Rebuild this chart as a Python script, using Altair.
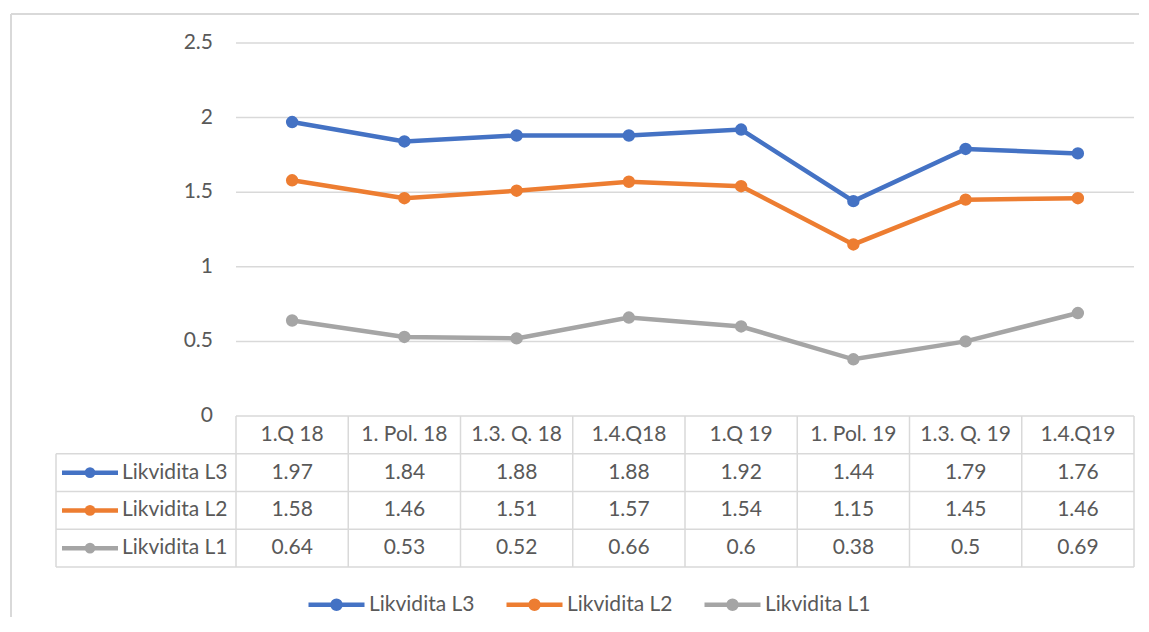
import altair as alt
import pandas as pd

# ---------------- data ----------------
categories = ["1.Q 18", "1. Pol. 18", "1.3. Q. 18", "1.4.Q18",
              "1.Q 19", "1. Pol. 19", "1.3. Q. 19", "1.4.Q19"]
series_names = ["Likvidita L3", "Likvidita L2", "Likvidita L1"]
l3 = [1.97, 1.84, 1.88, 1.88, 1.92, 1.44, 1.79, 1.76]
l2 = [1.58, 1.46, 1.51, 1.57, 1.54, 1.15, 1.45, 1.46]
l1 = [0.64, 0.53, 0.52, 0.66, 0.60, 0.38, 0.50, 0.69]
y_ticks = [0, 0.5, 1, 1.5, 2, 2.5]
y_tick_labels = ["0", "0.5", "1", "1.5", "2", "2.5"]
colors = ["#4472C4", "#ED7D31", "#A5A5A5"]

# ---------------- layout ----------------
W, H = 1078, 524
COL = W / 9.6036            # px per table column
X_MIN = -180 / COL          # left legend column of the table
NCOL = len(categories)
PX_PER_UNIT = 373 / 2.5
Y_MAX = 2.5
Y_MIN = Y_MAX - H / PX_PER_UNIT
ROW_H = 37.75 / PX_PER_UNIT
FONT = "Lato"
FS = 21
TXT = "#595959"
GRID = "#d9d9d9"
LW = 4.5


def px2x(px):
    return X_MIN + px / COL


# long table
rows = []
for s_i, (name, vals) in enumerate(zip(series_names, [l3, l2, l1])):
    for c_i, (cat, v) in enumerate(zip(categories, vals)):
        rows.append({"series": name, "cat": cat, "x": c_i + 0.5, "value": v,
                     "label": f"{v:g}", "ytab": -(s_i + 1.5) * ROW_H})
df = pd.DataFrame(rows)

hdr = pd.DataFrame({"cat": categories,
                    "x": [i + 0.5 for i in range(NCOL)],
                    "ytab": [-0.5 * ROW_H] * NCOL})

grid = pd.DataFrame({"y": y_ticks, "label": y_tick_labels,
                     "x0": [0] * len(y_ticks), "x1": [NCOL] * len(y_ticks),
                     "lx": [px2x(157)] * len(y_ticks)})

hl = pd.DataFrame({"y": [-r * ROW_H for r in range(1, 5)],
                   "x0": [X_MIN] * 4, "x1": [NCOL] * 4})
vl = pd.DataFrame({"x": [X_MIN] + list(range(NCOL + 1)),
                   "y0": [-ROW_H] + [0] * (NCOL + 1),
                   "y1": [-4 * ROW_H] * (NCOL + 2)})

rowhdr = pd.DataFrame({"series": series_names,
                       "xa": [px2x(6)] * 3, "xb": [px2x(62)] * 3,
                       "xc": [px2x(34)] * 3, "xt": [px2x(66)] * 3,
                       "ytab": [-(i + 1.5) * ROW_H for i in range(3)]})

sx = alt.Scale(domain=[X_MIN, NCOL], nice=False, zero=False)
sy = alt.Scale(domain=[Y_MIN, Y_MAX], nice=False, zero=False)
cscale = alt.Scale(domain=series_names, range=colors)


def ring(r):
    return f"M{-r},0A{r},{r},0,1,1,{r},0A{r},{r},0,1,1,{-r},0Z"


# line through a solid dot, drawn with strokes only (concentric rings)
SYM = "M-1,0L1,0" + ring(0.143) + ring(0.072) + ring(0.02)
leg = alt.Legend(
    title=None, orient="none", direction="horizontal",
    legendX=250, legendY=531,
    symbolType=SYM, symbolSize=3136, symbolStrokeWidth=LW, symbolOpacity=1,
    labelFont=FONT, labelFontSize=FS, labelColor=TXT, labelOffset=2,
    columnPadding=22, padding=0,
)

X = lambda f: alt.X(f, type="quantitative", scale=sx, axis=None)
Y = lambda f: alt.Y(f, type="quantitative", scale=sy, axis=None)

g_rules = alt.Chart(grid).mark_rule(color=GRID, strokeWidth=1.5).encode(
    x=X("x0"), x2="x1", y=Y("y"))
g_text = alt.Chart(grid).mark_text(align="right", baseline="middle", font=FONT,
                                   fontSize=FS, color=TXT).encode(
    x=X("lx"), y=Y("y"), text="label:N")
h_rules = alt.Chart(hl).mark_rule(color=GRID, strokeWidth=1.5).encode(
    x=X("x0"), x2="x1", y=Y("y"))
v_rules = alt.Chart(vl).mark_rule(color=GRID, strokeWidth=1.5).encode(
    x=X("x"), y=Y("y0"), y2="y1")

lines = alt.Chart(df).mark_line(strokeWidth=LW).encode(
    x=X("x"), y=Y("value"),
    color=alt.Color("series:N", scale=cscale, legend=leg))
pts = alt.Chart(df).mark_circle(size=154, opacity=1).encode(
    x=X("x"), y=Y("value"),
    color=alt.Color("series:N", scale=cscale, legend=None))

hdr_text = alt.Chart(hdr).mark_text(baseline="middle", font=FONT, fontSize=FS,
                                    color=TXT).encode(
    x=X("x"), y=Y("ytab"), text="cat:N")
val_text = alt.Chart(df).mark_text(baseline="middle", font=FONT, fontSize=FS,
                                   color=TXT).encode(
    x=X("x"), y=Y("ytab"), text="label:N")

rh_line = alt.Chart(rowhdr).mark_rule(strokeWidth=LW).encode(
    x=X("xa"), x2="xb", y=Y("ytab"),
    color=alt.Color("series:N", scale=cscale, legend=None))
rh_dot = alt.Chart(rowhdr).mark_circle(size=113, opacity=1).encode(
    x=X("xc"), y=Y("ytab"),
    color=alt.Color("series:N", scale=cscale, legend=None))
rh_text = alt.Chart(rowhdr).mark_text(align="left", baseline="middle", font=FONT,
                                      fontSize=FS, color=TXT).encode(
    x=X("xt"), y=Y("ytab"), text="series:N")

frame_top = alt.Chart(grid).mark_rule(color=GRID, strokeWidth=1.5).encode(
    x=alt.value(-45), x2=alt.value(1083), y=alt.value(-29))
frame_left = alt.Chart(grid).mark_rule(color=GRID, strokeWidth=1.5).encode(
    x=alt.value(-45), y=alt.value(-29), y2=alt.value(574))

chart = alt.layer(
    frame_top, frame_left, g_rules, h_rules, v_rules, g_text,
    lines, pts, hdr_text, val_text, rh_line, rh_dot, rh_text,
).properties(
    width=W, height=H,
    autosize=alt.AutoSizeParams(type="none"),
    padding={"left": 48, "top": 35, "right": 5, "bottom": 50},
    background="white",
).configure_view(stroke=None)

chart.save("out.html", embed_options={"renderer": "svg", "actions": False})
